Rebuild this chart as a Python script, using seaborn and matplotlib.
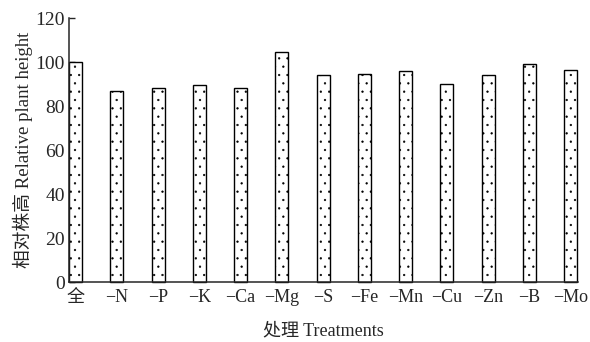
import matplotlib
matplotlib.use("Agg")
import matplotlib.pyplot as plt
import seaborn as sns
import pandas as pd

# relative plant height per treatment
treatments = ["全", "−N", "−P", "−K", "−Ca", "−Mg", "−S", "−Fe", "−Mn", "−Cu", "−Zn", "−B", "−Mo"]
height = [100, 86.8, 88.2, 89.6, 88.2, 104.5, 94.2, 94.4, 96.0, 90.2, 94.0, 99.0, 96.6]

df = pd.DataFrame({"treatment": treatments, "height": height})

sns.set_style("ticks")
plt.rcParams["font.family"] = ["Liberation Serif", "Noto Sans CJK SC"]
plt.rcParams["hatch.linewidth"] = 0.4

fig = plt.figure(figsize=(5.9, 3.42), dpi=100)
ax = fig.add_axes([0.117, 0.175, 0.862, 0.772])

sns.barplot(data=df, x="treatment", y="height", color="white", edgecolor="black",
            linewidth=1.0, width=0.32, ax=ax)
for p in ax.patches:
    p.set_hatch("..")
    p.set_clip_on(False)

ax.set_xlim(-0.16, 12.17)
ax.set_ylim(0, 120)
ax.set_yticks(range(0, 121, 20))
ax.tick_params(axis="y", direction="in", length=4, width=1, labelsize=14, pad=3)
ax.tick_params(axis="x", length=0, labelsize=13, pad=5)
sns.despine(ax=ax)
for s in ["left", "bottom"]:
    ax.spines[s].set_linewidth(1.1)

ax.set_xlabel("处理 Treatments", fontsize=13, labelpad=12)
ax.set_ylabel("相对株高 Relative plant height", fontsize=13.5, labelpad=2)

fig.savefig("out.png", dpi=100)
